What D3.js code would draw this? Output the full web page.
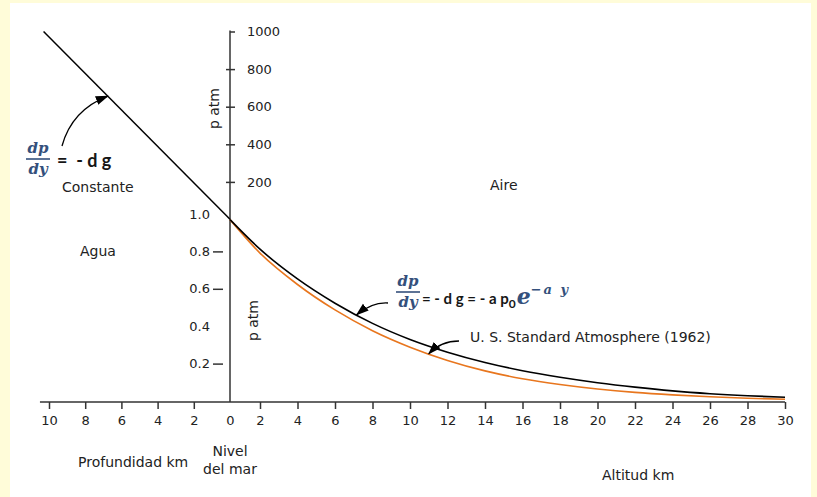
<!DOCTYPE html>
<meta charset="utf-8" />
<style>
  body { margin: 0; background: #fffcd9; }
  text { font-family: "DejaVu Sans", Verdana, sans-serif; font-size: 14px; fill: #222; }
  .frac { font-family: "DejaVu Serif", serif; font-weight: bold; font-style: italic; fill: #34507c; font-size: 15px; }
  .eq { font-family: Lato, "Open Sans", sans-serif; font-weight: bold; font-size: 18px; fill: #161616; white-space: pre; }
  .mathit { font-family: "DejaVu Serif", serif; font-weight: bold; font-style: italic; fill: #34507c; }
</style>
<body>
  <div id="chart"></div>
  <script src="https://cdn.jsdelivr.net/npm/d3@7"></script>
  <script>
    // tick values
    var depthTicks = [10, 8, 6, 4, 2];
    var altTicks = [0, 2, 4, 6, 8, 10, 12, 14, 16, 18, 20, 22, 24, 26, 28, 30];
    var highTicks = [200, 400, 600, 800, 1000];
    var lowTicks = [0.2, 0.4, 0.6, 0.8, 1.0];
    var lowDashes = [0.2, 0.6, 0.8];

    // water: depth (km) vs pressure (atm), straight line
    var waterDepth = [0, 10.3];
    var waterP = [1, 1000];

    // air: altitude (km) vs pressure (atm)
    var altitude = [0, 2, 4, 6, 8, 10, 12, 14, 16, 18, 20, 22, 24, 26, 28, 30];
    var pModel = [0.97, 0.812, 0.653, 0.523, 0.415, 0.329, 0.261, 0.206, 0.162, 0.127, 0.098, 0.074, 0.054, 0.039, 0.028, 0.02];
    var pStandard = [0.97, 0.791, 0.623, 0.487, 0.376, 0.288, 0.217, 0.161, 0.119, 0.088, 0.064, 0.046, 0.033, 0.023, 0.015, 0.009];

    var W = 817, H = 497;
    var axisY = 402;

    var svg = d3.select("#chart").append("svg")
      .attr("width", W)
      .attr("height", H);

    // white panel
    svg.append("rect")
      .attr("x", 10).attr("y", 3)
      .attr("width", 801).attr("height", H - 3)
      .attr("fill", "#fff");

    // scales (the altitude axis of the original has a short first step)
    var xDepth = d3.scaleLinear().domain([0, 10]).range([230, 49]);
    var xAlt = d3.scaleLinear().domain([0, 2, 30]).range([230, 260, 785]);
    var yHigh = d3.scaleLinear().domain([0, 1000]).range([219.5, 31.5]);
    var yLow = d3.scaleLinear().domain([0, 1]).range([401, 214]);

    var x0 = xAlt(0);

    // arrow marker
    svg.append("defs").append("marker")
      .attr("id", "head")
      .attr("markerUnits", "userSpaceOnUse")
      .attr("markerWidth", 14).attr("markerHeight", 10)
      .attr("refX", 12).attr("refY", 4.5)
      .attr("orient", "auto")
      .append("path")
      .attr("d", "M0,0 L13,4.5 L0,9 Z")
      .attr("fill", "#000");

    // x axis line
    svg.append("line")
      .attr("x1", xDepth(10.5)).attr("x2", xAlt(30))
      .attr("y1", axisY).attr("y2", axisY)
      .attr("stroke", "#333").attr("stroke-width", 1.5);

    // depth axis
    var gDepth = svg.append("g")
      .attr("transform", "translate(0," + axisY + ")")
      .call(d3.axisBottom(xDepth).tickValues(depthTicks).tickSize(7).tickPadding(7).tickSizeOuter(0));
    // altitude axis
    var gAlt = svg.append("g")
      .attr("transform", "translate(0," + axisY + ")")
      .call(d3.axisBottom(xAlt).tickValues(altTicks).tickSize(7).tickPadding(7).tickSizeOuter(0));
    gAlt.selectAll(".tick").filter(function(d) { return d === 0; }).select("line").remove();

    [gDepth, gAlt].forEach(function(g) {
      g.select(".domain").remove();
      g.selectAll(".tick line").attr("stroke", "#333").attr("stroke-width", 1.5);
      g.selectAll(".tick text")
        .style("font-family", '"DejaVu Sans", Verdana, sans-serif')
        .style("font-size", "13px")
        .attr("fill", "#222");
    });

    // y axis line
    svg.append("line")
      .attr("x1", x0).attr("x2", x0)
      .attr("y1", yHigh(1000) - 1).attr("y2", axisY)
      .attr("stroke", "#333").attr("stroke-width", 1.5);

    // upper pressure axis (atm, water)
    var gHigh = svg.append("g")
      .attr("transform", "translate(" + x0 + ",0)")
      .call(d3.axisRight(yHigh).tickValues(highTicks).tickSize(5).tickPadding(12).tickFormat(d3.format("d")).tickSizeOuter(0));
    gHigh.select(".domain").remove();
    gHigh.selectAll(".tick").filter(function(d) { return d !== 1000; })
      .append("line").attr("x2", -4);
    gHigh.selectAll(".tick line").attr("stroke", "#333").attr("stroke-width", 1.5);

    // lower pressure axis (atm, air)
    var gLow = svg.append("g")
      .attr("transform", "translate(" + x0 + ",0)")
      .call(d3.axisLeft(yLow).tickValues(lowTicks).tickSize(0).tickPadding(20).tickFormat(d3.format(".1f")).tickSizeOuter(0));
    gLow.select(".domain").remove();
    gLow.selectAll(".tick").filter(function(d) { return lowDashes.indexOf(d) >= 0; })
      .append("line")
      .attr("x1", -17).attr("x2", -7)
      .attr("stroke", "#333").attr("stroke-width", 1.5);

    [gHigh, gLow].forEach(function(g) {
      g.selectAll(".tick text")
        .style("font-family", '"DejaVu Sans", Verdana, sans-serif')
        .style("font-size", "13px")
        .attr("fill", "#222");
    });

    // axis titles
    svg.append("text")
      .attr("transform", "translate(219," + yHigh(590) + ") rotate(-90)")
      .attr("text-anchor", "middle")
      .text("p atm");
    svg.append("text")
      .attr("transform", "translate(258," + yLow(0.43) + ") rotate(-90)")
      .attr("text-anchor", "middle")
      .text("p atm");

    // water line
    var water = waterDepth.map(function(d, i) { return { x: xDepth(d), y: yHigh(waterP[i]) }; });
    svg.append("path")
      .datum(water)
      .attr("fill", "none")
      .attr("stroke", "#000")
      .attr("stroke-width", 1.5)
      .attr("d", d3.line().x(function(d) { return d.x; }).y(function(d) { return d.y; }));

    // air curves
    var airLine = d3.line()
      .curve(d3.curveMonotoneX)
      .x(function(d) { return xAlt(d[0]); })
      .y(function(d) { return yLow(d[1]); });

    svg.append("path")
      .datum(d3.zip(altitude, pStandard))
      .attr("fill", "none")
      .attr("stroke", "#e8761e")
      .attr("stroke-width", 1.6)
      .attr("d", airLine);

    svg.append("path")
      .datum(d3.zip(altitude, pModel))
      .attr("fill", "none")
      .attr("stroke", "#000")
      .attr("stroke-width", 1.6)
      .attr("d", airLine);

    // pressure on a series at a given altitude
    function pAt(series, a) {
      var i = d3.bisectRight(altitude, a) - 1;
      var t = (a - altitude[i]) / (altitude[i + 1] - altitude[i]);
      return series[i] + t * (series[i + 1] - series[i]);
    }

    // arrows
    function arrow(x1, y1, cx, cy, x2, y2) {
      svg.append("path")
        .attr("d", "M" + x1 + "," + y1 + " Q" + cx + "," + cy + " " + x2 + "," + y2)
        .attr("fill", "none")
        .attr("stroke", "#000")
        .attr("stroke-width", 1.3)
        .attr("marker-end", "url(#head)");
    }
    var tipDepth = 6.75;
    var tipWater = waterP[0] + (waterP[1] - waterP[0]) * tipDepth / waterDepth[1];
    arrow(62, 146, 72, 110, xDepth(tipDepth), yHigh(tipWater));
    arrow(388, 303, 372, 302, xAlt(7.15), yLow(pAt(pModel, 7.15)));
    arrow(459, 341, 441, 341, xAlt(11), yLow(pAt(pStandard, 11)));

    // fraction dp/dy
    function frac(cx, yTop) {
      svg.append("text").attr("class", "frac").attr("x", cx).attr("y", yTop).attr("text-anchor", "middle").text("dp");
      svg.append("line")
        .attr("x1", cx - 12).attr("x2", cx + 12)
        .attr("y1", yTop + 6).attr("y2", yTop + 6)
        .attr("stroke", "#34507c").attr("stroke-width", 1.6);
      svg.append("text").attr("class", "frac").attr("x", cx).attr("y", yTop + 21).attr("text-anchor", "middle").text("dy");
    }

    frac(38, 153);
    svg.append("text").attr("class", "eq").attr("x", 57).attr("y", 167).text("=  - d g");

    frac(408, 286);
    var eq2 = svg.append("text").attr("class", "eq")
      .attr("x", 422).attr("y", 304)
      .style("font-size", "15px");
    eq2.append("tspan").text("= - d g = - a p");
    eq2.append("tspan").attr("dy", 4).style("font-size", "12px").text("0");
    eq2.append("tspan").attr("class", "mathit").attr("dy", -4).attr("dx", 1)
      .style("font-size", "22px").text("e");
    eq2.append("tspan").attr("class", "mathit").attr("dy", -10)
      .style("font-size", "13px").style("letter-spacing", "2px")
      .text("\u2212a y");

    // labels
    svg.append("text").attr("x", 62).attr("y", 192).text("Constante");
    svg.append("text").attr("x", 80).attr("y", 256).text("Agua");
    svg.append("text").attr("x", 490).attr("y", 190).text("Aire");
    svg.append("text").attr("x", 470).attr("y", 342).text("U. S. Standard Atmosphere (1962)");
    svg.append("text").attr("x", 78).attr("y", 467).text("Profundidad km");
    svg.append("text").attr("x", x0).attr("y", 456).attr("text-anchor", "middle").text("Nivel");
    svg.append("text").attr("x", x0).attr("y", 474).attr("text-anchor", "middle").text("del mar");
    svg.append("text").attr("x", 602).attr("y", 480).text("Altitud km");
  </script>
</body>
